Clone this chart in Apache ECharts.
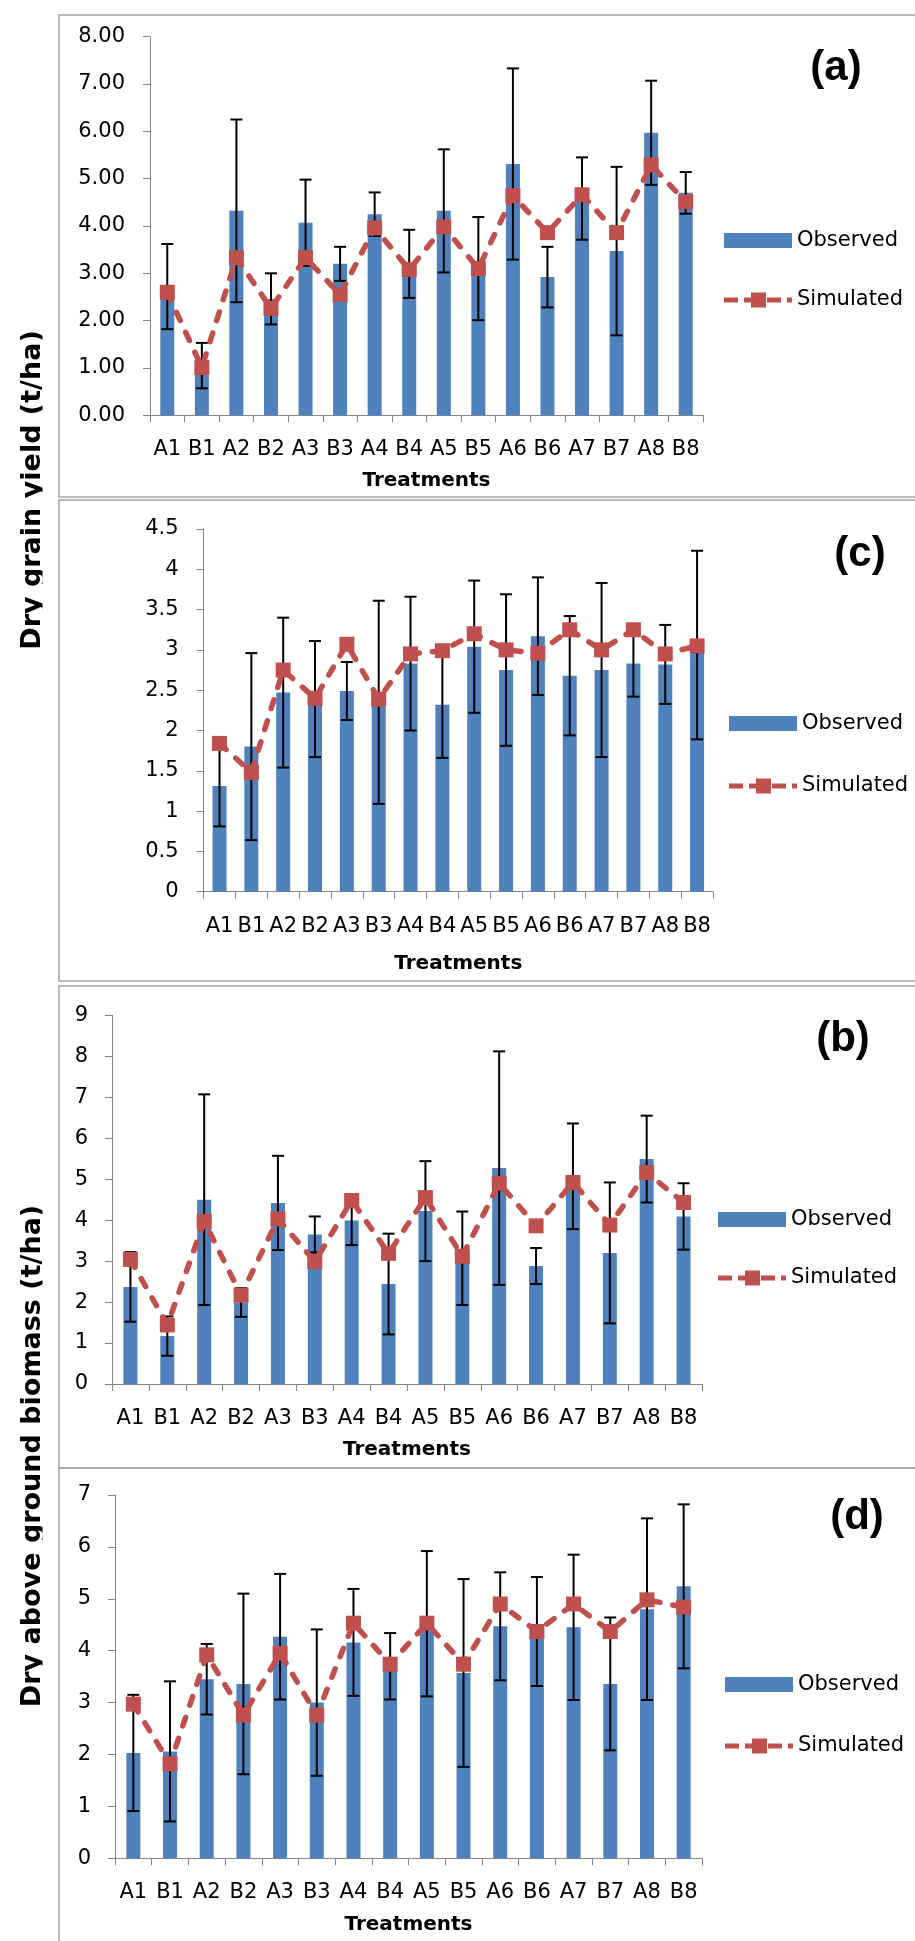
<!DOCTYPE html>
<html><head><meta charset="utf-8">
<script src="https://cdn.jsdelivr.net/npm/echarts@6/dist/echarts.min.js"></script>
<style>html,body{margin:0;padding:0;background:#fff}#c{width:915px;height:1941px}</style>
</head><body><div id="c"></div>
<script>
// ---------- DATA ----------
const categories = ['A1','B1','A2','B2','A3','B3','A4','B4','A5','B5','A6','B6','A7','B7','A8','B8'];

// (a) Dry grain yield
const obsA = [2.72, 1.05, 4.32, 2.46, 4.07, 3.20, 4.25, 3.20, 4.32, 3.10, 5.31, 2.92, 4.58, 3.47, 5.97, 4.70];
const errA = [0.90, 0.48, 1.93, 0.54, 0.91, 0.36, 0.46, 0.72, 1.30, 1.09, 2.02, 0.64, 0.87, 1.78, 1.10, 0.44];
const simA = [2.60, 1.01, 3.33, 2.26, 3.33, 2.55, 3.96, 3.08, 3.98, 3.10, 4.64, 3.86, 4.66, 3.86, 5.29, 4.51];

// (c) Dry grain yield
const obsC = [1.31, 1.80, 2.47, 2.39, 2.49, 2.35, 2.83, 2.32, 3.04, 2.75, 3.17, 2.68, 2.75, 2.83, 2.82, 3.06];
const errC = [0.50, 1.16, 0.93, 0.72, 0.36, 1.26, 0.83, 0.66, 0.82, 0.94, 0.73, 0.74, 1.08, 0.41, 0.49, 1.17];
const simC = [1.84, 1.48, 2.75, 2.40, 3.07, 2.39, 2.95, 2.99, 3.20, 3.00, 2.96, 3.25, 3.00, 3.25, 2.95, 3.05];

// (b) Dry above ground biomass
const obsB = [2.37, 1.17, 4.50, 1.99, 4.42, 3.65, 3.99, 2.44, 4.22, 3.07, 5.27, 2.88, 5.07, 3.20, 5.49, 4.09];
const errB = [0.85, 0.48, 2.57, 0.35, 1.15, 0.44, 0.60, 1.23, 1.22, 1.14, 2.85, 0.44, 1.29, 1.72, 1.06, 0.81];
const simB = [3.04, 1.44, 3.97, 2.17, 4.03, 2.99, 4.48, 3.19, 4.55, 3.12, 4.90, 3.86, 4.92, 3.88, 5.16, 4.43];

// (d) Dry above ground biomass
const obsD = [2.03, 2.06, 3.45, 3.36, 4.27, 3.00, 4.16, 3.70, 4.52, 3.57, 4.47, 4.37, 4.45, 3.36, 4.80, 5.24];
const errD = [1.12, 1.35, 0.68, 1.74, 1.21, 1.41, 1.03, 0.64, 1.40, 1.81, 1.04, 1.05, 1.40, 1.28, 1.75, 1.58];
const simD = [2.97, 1.82, 3.92, 2.76, 3.95, 2.76, 4.53, 3.74, 4.53, 3.74, 4.90, 4.37, 4.90, 4.37, 4.98, 4.84];

const yTitles = ['Dry grain yield (t/ha)', 'Dry above ground biomass (t/ha)'];
const xTitle = 'Treatments';
const panelTags = ['(a)', '(c)', '(b)', '(d)'];
const seriesNames = ['Observed', 'Simulated'];

// ---------- LAYOUT ----------
const panels = [
  {obs:obsA, err:errA, sim:simA, max:8,   interval:1,   dec:2, grid:{left:150,   top:36.7,   width:553,   height:378.6}, lm:25, ng:55,   lg:{left:724, top:230,  gap:38.5}, tag:[836,68]},
  {obs:obsC, err:errC, sim:simC, max:4.5, interval:0.5, dec:-1, grid:{left:203.6, top:529,    width:509.4, height:362.7}, lm:25, ng:61.6, lg:{left:729, top:713,  gap:41.5}, tag:[860,554]},
  {obs:obsB, err:errB, sim:simB, max:9,   interval:1,   dec:-1, grid:{left:112,   top:1015.3, width:590,   height:368.7}, lm:24, ng:56,   lg:{left:718, top:1209, gap:37.5}, tag:[843,1039]},
  {obs:obsD, err:errD, sim:simD, max:7,   interval:1,   dec:-1, grid:{left:115,   top:1495,   width:587,   height:363.3}, lm:24, ng:56.7, lg:{left:725, top:1674, gap:40.5}, tag:[857,1517]}
];

const BLUE = '#4F81BD', RED = '#C0504D', AXIS = '#868686';
const FONT = '"DejaVu Sans", sans-serif';
// legend icon for the simulated series: dashes with a square marker (68 x 15 box)
const SIM_ICON = 'path://M0 5H14V10H0Z M20 5H28V10H20Z M27 0H42V15H27Z M43 5H57V10H43Z M63 5H68V10H63Z';

function renderErr(params, api) {
  const lo = api.coord([api.value(0), api.value(1)]);
  const hi = api.coord([api.value(0), api.value(2)]);
  const h = 6;
  const st = {stroke:'#000', lineWidth:2};
  return {type:'group', children:[
    {type:'line', shape:{x1:hi[0], y1:hi[1], x2:lo[0], y2:lo[1]}, style:st},
    {type:'line', shape:{x1:hi[0]-h, y1:hi[1], x2:hi[0]+h, y2:hi[1]}, style:st},
    {type:'line', shape:{x1:lo[0]-h, y1:lo[1], x2:lo[0]+h, y2:lo[1]}, style:st}
  ]};
}

const grids = [], xAxes = [], yAxes = [], series = [], legends = [], graphics = [];

panels.forEach((p, i) => {
  grids.push(Object.assign({containLabel:false}, p.grid));
  xAxes.push({
    type:'category', gridIndex:i, data:categories, boundaryGap:true,
    name:xTitle, nameLocation:'middle', nameGap:p.ng,
    nameTextStyle:{fontFamily:FONT, fontWeight:'bold', fontSize:20, color:'#000'},
    axisLine:{lineStyle:{color:AXIS, width:1}},
    axisTick:{show:true, length:7, lineStyle:{color:AXIS}},
    axisLabel:{interval:0, margin:24, fontFamily:FONT, fontSize:21, color:'#000'},
    splitLine:{show:false}
  });
  yAxes.push({
    type:'value', gridIndex:i, min:0, max:p.max, interval:p.interval,
    axisLine:{show:true, lineStyle:{color:AXIS, width:1}},
    axisTick:{show:true, length:7, lineStyle:{color:AXIS}},
    axisLabel:{margin:p.lm, fontFamily:FONT, fontSize:21, color:'#000',
      formatter: v => p.dec > 0 ? v.toFixed(p.dec) : String(v)},
    splitLine:{show:false}
  });
  series.push({
    type:'bar', name:seriesNames[0], xAxisIndex:i, yAxisIndex:i, data:p.obs,
    barWidth:14, itemStyle:{color:BLUE}, z:2
  });
  series.push({
    type:'custom', name:'err'+i, xAxisIndex:i, yAxisIndex:i, z:3,
    renderItem:renderErr,
    data:p.obs.map((v, k) => [k, v - p.err[k], v + p.err[k]])
  });
  series.push({
    type:'line', name:seriesNames[1], xAxisIndex:i, yAxisIndex:i, data:p.sim,
    symbol:'rect', symbolSize:15, z:4,
    lineStyle:{color:RED, width:5.5, type:[9,13], cap:'round'},
    itemStyle:{color:RED}
  });
  legends.push({
    orient:'vertical', left:p.lg.left, top:p.lg.top, itemGap:p.lg.gap, padding:0,
    itemWidth:68, itemHeight:15, selectedMode:false, symbolKeepAspect:false,
    textStyle:{fontFamily:FONT, fontSize:21, color:'#000'},
    data:[{name:seriesNames[0], icon:'rect'}, {name:seriesNames[1], icon:SIM_ICON}]
  });
  graphics.push({
    type:'text', x:p.tag[0], y:p.tag[1], z:10,
    style:{text:panelTags[i], font:'bold 42px "Liberation Sans", sans-serif', fill:'#000', align:'center', verticalAlign:'middle'}
  });
});

// panel frames
const FR = '#A5A5A5';
[[59,15,900,482],[59,500,900,481],[59,986,900,482],[59,1468,900,500]].forEach(r => {
  graphics.push({type:'rect', z:1, shape:{x:r[0], y:r[1], width:r[2], height:r[3]},
    style:{fill:'none', stroke:FR, lineWidth:1.5}});
});

// y-axis titles (rotated), with descenders cut as in the original
graphics.push({type:'text', x:33, y:490, rotation:Math.PI/2, z:10,
  style:{text:yTitles[0], font:'bold 27px "DejaVu Sans", sans-serif', fill:'#000', align:'center', verticalAlign:'middle'}});
graphics.push({type:'text', x:33, y:1456, rotation:Math.PI/2, z:10,
  style:{text:yTitles[1], font:'bold 27px "DejaVu Sans", sans-serif', fill:'#000', align:'center', verticalAlign:'middle'}});
graphics.push({type:'rect', z:11, shape:{x:42.5, y:300, width:15, height:1450}, style:{fill:'#fff'}});

const chart = echarts.init(document.getElementById('c'), null, {renderer:'canvas'});
chart.setOption({
  animation:false,
  backgroundColor:'#fff',
  grid:grids, xAxis:xAxes, yAxis:yAxes, series:series, legend:legends,
  graphic:{elements:graphics}
});
</script></body></html>
